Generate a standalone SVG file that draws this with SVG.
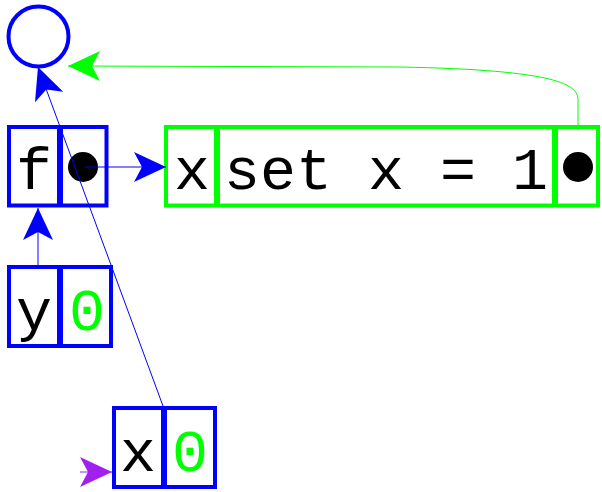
<svg xmlns="http://www.w3.org/2000/svg" width="602" height="492" viewBox="0 0 602 492">
  <style>
    .cell { fill: none; stroke-width: 4; }
    .div { stroke-width: 6; }
    .blue { stroke: #0000ff; }
    .green { stroke: #00ff00; }
    .t { font-family: "Liberation Mono", "Courier New", monospace; font-size: 60px; text-anchor: middle; }
    .k { fill: #000000; }
    .v { fill: #00ff00; }
    .dot { fill: #000000; }
    .edge { fill: none; stroke-width: 1; }
  </style>
  <defs>
    <marker id="ah-blue" viewBox="-33 -16 34 32" markerWidth="34" markerHeight="32" refX="0" refY="0" orient="auto" markerUnits="userSpaceOnUse">
      <path d="M0,0 L-32,-15 L-24,0 L-32,15 Z" fill="#0000ff"/>
    </marker>
    <marker id="ah-green" viewBox="-33 -16 34 32" markerWidth="34" markerHeight="32" refX="0" refY="0" orient="auto" markerUnits="userSpaceOnUse">
      <path d="M0,0 L-32,-15 L-24,0 L-32,15 Z" fill="#00ff00"/>
    </marker>
    <marker id="ah-purple" viewBox="-33 -16 34 32" markerWidth="34" markerHeight="32" refX="0" refY="0" orient="auto" markerUnits="userSpaceOnUse">
      <path d="M0,0 L-32,-15 L-24,0 L-32,15 Z" fill="#a020f0"/>
    </marker>
  </defs>

  <!-- global frame -->
  <g id="frame-global">
    <circle cx="38.5" cy="36.5" r="30" fill="none" stroke="#0000ff" stroke-width="4"/>
  </g>

  <!-- f binding -->
  <g id="binding-f">
    <rect class="cell blue" x="9" y="127" width="97.5" height="78.5"/>
    <line class="blue div" x1="60" y1="127" x2="60" y2="205.5"/>
    <text class="t k" x="34" y="189">f</text>
    <circle class="dot" cx="83" cy="167" r="15"/>
  </g>

  <!-- closure -->
  <g id="closure">
    <rect class="cell green" x="166" y="127" width="432" height="78.5"/>
    <line class="green div" x1="217" y1="127" x2="217" y2="205.5"/>
    <line class="green div" x1="555" y1="127" x2="555" y2="205.5"/>
    <text class="t k" x="192" y="189">x</text>
    <text class="t k" x="386" y="189">set x = 1</text>
    <circle class="dot" cx="578" cy="167" r="15"/>
  </g>

  <!-- y binding -->
  <g id="binding-y">
    <rect class="cell blue" x="9" y="267" width="102" height="79"/>
    <line class="blue div" x1="60" y1="267" x2="60" y2="346"/>
    <text class="t k" x="34" y="330">y</text>
    <text class="t v" x="87" y="330">0</text>
  </g>

  <!-- x binding -->
  <g id="binding-x">
    <rect class="cell blue" x="114" y="408" width="101" height="79"/>
    <line class="blue div" x1="164" y1="408" x2="164" y2="487"/>
    <text class="t k" x="138" y="471">x</text>
    <text class="t v" x="190" y="471">0</text>
  </g>

  <!-- connectors -->
  <g id="connectors">
    <line class="edge blue" x1="85" y1="167" x2="166" y2="167" marker-end="url(#ah-blue)"/>
    <line class="edge blue" x1="38" y1="265" x2="38" y2="208" marker-end="url(#ah-blue)"/>
    <line class="edge blue" x1="163" y1="406" x2="38" y2="67" marker-end="url(#ah-blue)"/>
    <path class="edge green" d="M578,130 V100 C578,85 560,70 400,67 L68,66" marker-end="url(#ah-green)"/>
    <line class="edge" stroke="#a020f0" x1="80" y1="472" x2="112" y2="472" marker-end="url(#ah-purple)"/>
  </g>
</svg>
